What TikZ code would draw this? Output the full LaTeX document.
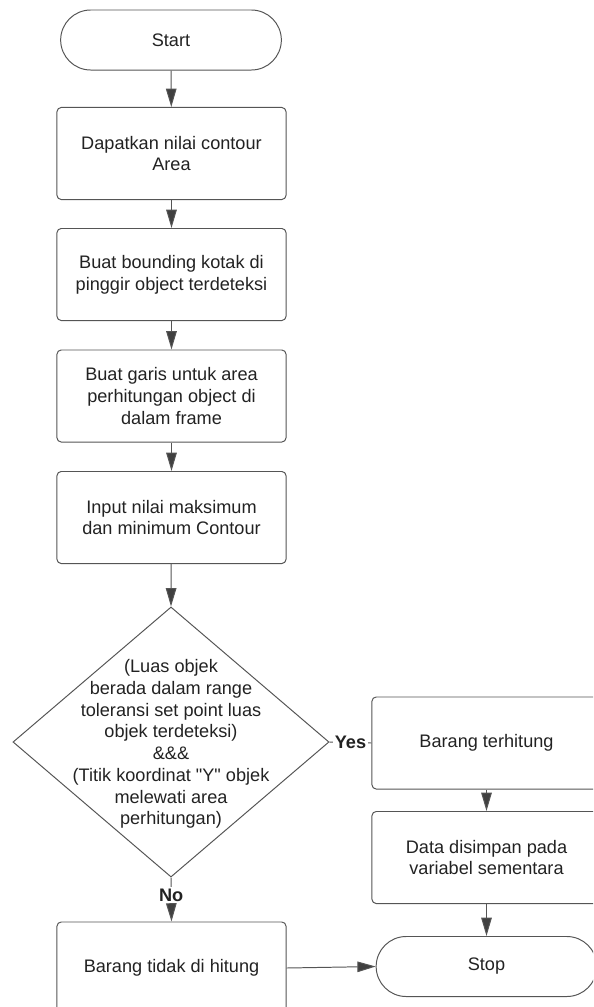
\documentclass[tikz,border=0pt]{standalone}
\usepackage{fontspec}
\setmainfont{Liberation Sans}[Ligatures=TeXOff]
\usetikzlibrary{shapes.geometric,shapes.misc,arrows.meta}

\definecolor{linegray}{HTML}{555555}
\definecolor{tipgray}{HTML}{404040}
\definecolor{txtgray}{HTML}{222222}

\tikzset{
  stepbox/.style={draw=linegray, line width=0.7pt, rounded corners=3pt,
    minimum width=5.725cm, minimum height=2.3cm, align=center,
    text=txtgray, font=\fontsize{12.9}{15.5}\selectfont},
  terminal/.style={draw=linegray, line width=0.7pt, rounded rectangle,
    minimum width=5.75cm, minimum height=1.5cm, text=txtgray,
    font=\fontsize{12.9}{15.5}\selectfont},
  decision/.style={draw=linegray, line width=0.7pt, diamond, inner sep=0pt,
    minimum width=7.9cm, minimum height=6.75cm},
  dectext/.style={align=center, text=txtgray,
    font=\fontsize{12.9}{15.5}\selectfont},
  conn/.style={draw=linegray, line width=0.7pt,
    -{Triangle[length=13pt,width=7.5pt,fill=tipgray]}},
  lbl/.style={fill=white, inner sep=1pt, text=txtgray,
    font=\fontsize{12.9}{15.5}\selectfont\bfseries}
}

\begin{document}
\begin{tikzpicture}[x=0.025cm, y=-0.025cm]
        \useasboundingbox (0,0) rectangle (593,1007);
        \clip (0,0) rectangle (593,1007);

        % Left column
        \node[terminal] (start) at (171,40) {Start};
        \node[stepbox] (contour) at (171.5,153.5) {Dapatkan nilai contour\\Area};
        \node[stepbox] (bbox) at (171.5,274.5) {Buat bounding kotak di\\pinggir object terdeteksi};
        \node[stepbox] (garis) at (171.5,396) {Buat garis untuk area\\perhitungan object di\\dalam frame};
        \node[stepbox] (input) at (171.5,517.5) {Input nilai maksimum\\dan minimum Contour};

        % Decision
        \node[decision] (cek) at (171,742) {};
        \node[dectext] (cektext) at (171,744) {(Luas objek\\berada dalam range\\toleransi set point luas\\objek terdeteksi)\\\&\&\&\\(Titik koordinat "Y" objek\\melewati area\\perhitungan)};

        \node[stepbox] (tidak) at (171.5,968) {Barang tidak di hitung};

        % Right column
        \node[stepbox] (hitung) at (486.5,743) {Barang terhitung};
        \node[stepbox] (simpan) at (486.5,857.5) {Data disimpan pada\\variabel sementara};
        \node[terminal] (stop) at (486.5,966.5) {Stop};

        % Connectors
        \draw[conn] (start) -- (contour);
        \draw[conn] (contour) -- (bbox);
        \draw[conn] (bbox) -- (garis);
        \draw[conn] (garis) -- (input);
        \draw[conn] (input) -- (cek.north);
        \draw[draw=linegray, line width=0.7pt] (cek.east) -- node[lbl] {Yes} (hitung.west);
        \draw[conn] (cek.south) -- node[lbl, pos=0.4] {No} (tidak.north);
        \draw[conn] (hitung) -- (simpan);
        \draw[conn] (simpan) -- (stop);
        \draw[conn] (tidak.east) -- (stop.west);
\end{tikzpicture}
\end{document}
